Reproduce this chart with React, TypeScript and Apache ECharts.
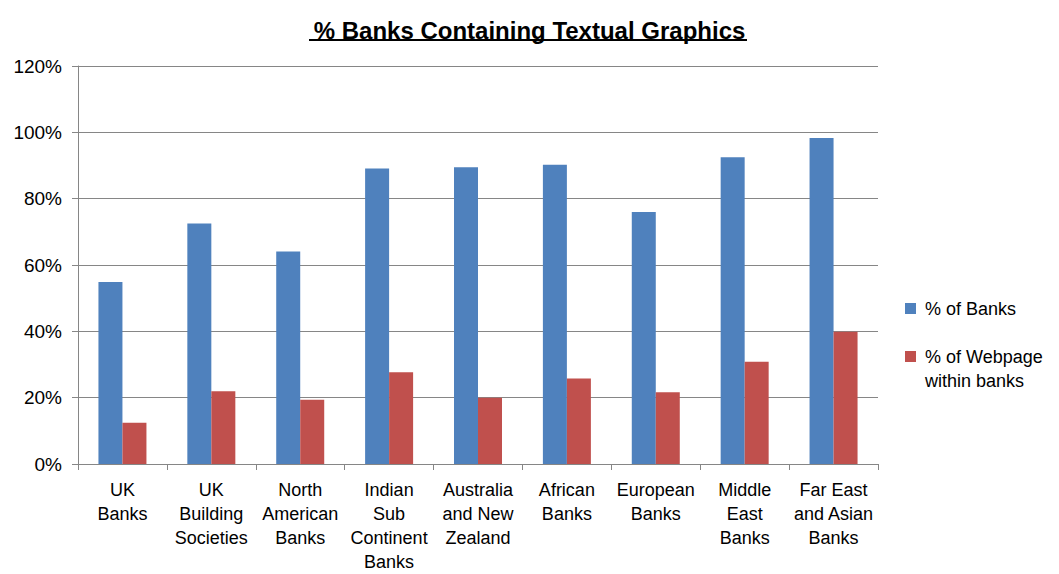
import React, { useEffect, useRef } from "react";
import * as echarts from "echarts";

const categories = [
  "UK\nBanks",
  "UK\nBuilding\nSocieties",
  "North\nAmerican\nBanks",
  "Indian\nSub\nContinent\nBanks",
  "Australia\nand New\nZealand",
  "African\nBanks",
  "European\nBanks",
  "Middle\nEast\nBanks",
  "Far East\nand Asian\nBanks",
];
const pctBanks = [54.9, 72.5, 64.1, 89.1, 89.5, 90.2, 76.0, 92.5, 98.3];
const pctWebpage = [12.4, 21.9, 19.4, 27.7, 20.0, 25.8, 21.6, 30.8, 39.9];
const seriesNames = ["% of Banks", "% of Webpage within banks"];
const legendFirstLines = ["% of Banks", "% of Webpage"];
const legendSecondLine = "within banks";
const titleText = "% Banks Containing Textual Graphics";

const FONT = "'Liberation Sans', Arial, sans-serif";

export default function App() {
  const ref = useRef<HTMLDivElement>(null);
  useEffect(() => {
    if (!ref.current) return;
    const chart = echarts.init(ref.current, undefined, { renderer: "svg" });
    chart.setOption({
      animation: false,
      backgroundColor: "#ffffff",
      title: {
        text: titleText,
        left: "center",
        top: 13,
        textStyle: {
          fontFamily: FONT,
          fontSize: 24,
          fontWeight: "bold",
          color: "#000",
        },
      },
      graphic: [
        {
          type: "line",
          shape: { x1: 309, y1: 40, x2: 747, y2: 40 },
          style: { stroke: "#000", lineWidth: 2 },
        },
        {
          type: "text",
          x: 925,
          y: 381,
          style: {
            text: legendSecondLine,
            font: "18px 'Liberation Sans', Arial, sans-serif",
            fill: "#000",
            textVerticalAlign: "middle",
            verticalAlign: "middle",
          },
        },
      ],
      legend: {
        orient: "vertical",
        left: 905,
        top: 297,
        padding: 0,
        itemWidth: 11,
        itemHeight: 11,
        itemGap: 25,
        icon: "rect",
        data: seriesNames,
        formatter: (name: string) =>
          name === seriesNames[1] ? legendFirstLines[1] : legendFirstLines[0],
        textStyle: {
          fontFamily: FONT,
          fontSize: 18,
          color: "#000",
          lineHeight: 23,
          padding: [0, 0, 0, 4],
        },
      },
      grid: { left: 78, right: 181, top: 66, bottom: 107 },
      xAxis: {
        type: "category",
        data: categories,
        axisLine: { lineStyle: { color: "#868686" } },
        axisTick: { show: true, length: 6, lineStyle: { color: "#868686" } },
        axisLabel: {
          interval: 0,
          margin: 14,
          fontFamily: FONT,
          fontSize: 18,
          lineHeight: 24,
          color: "#000",
        },
      },
      yAxis: {
        type: "value",
        min: 0,
        max: 120,
        interval: 20,
        axisLine: { show: true, lineStyle: { color: "#868686" } },
        axisTick: { show: true, length: 6, lineStyle: { color: "#868686" } },
        splitLine: { lineStyle: { color: "#868686" } },
        axisLabel: {
          formatter: "{value}%",
          margin: 16,
          fontFamily: FONT,
          fontSize: 19,
          color: "#000",
        },
      },
      series: [
        {
          name: seriesNames[0],
          type: "bar",
          data: pctBanks,
          barWidth: 24,
          barGap: "0%",
          itemStyle: { color: "#4F81BD" },
        },
        {
          name: seriesNames[1],
          type: "bar",
          data: pctWebpage,
          barWidth: 24,
          barGap: "0%",
          itemStyle: { color: "#C0504D" },
        },
      ],
    });
    return () => chart.dispose();
  }, []);
  return (
    <div
      ref={ref}
      style={{ position: "absolute", left: 0, top: 0, width: 1059, height: 574 }}
    />
  );
}
